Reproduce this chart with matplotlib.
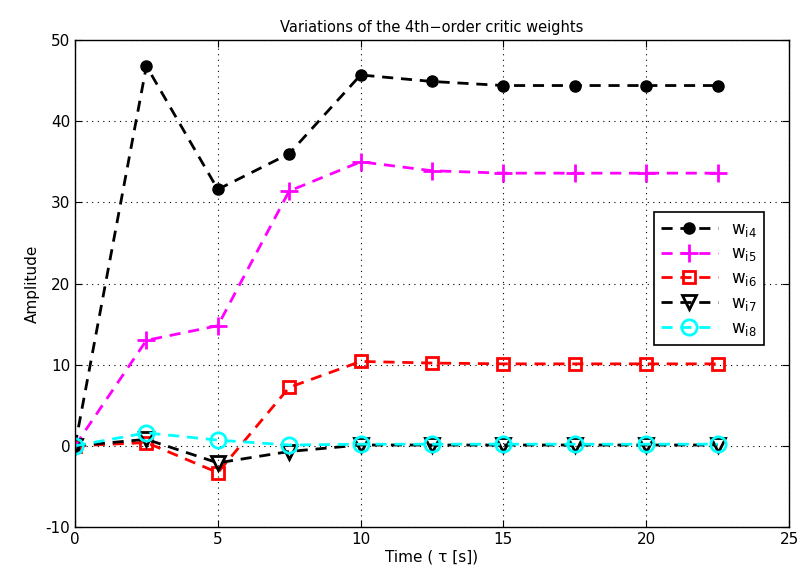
import numpy as np
import matplotlib.pyplot as plt

plt.rcParams['mathtext.default'] = 'regular'
plt.rcParams['axes.unicode_minus'] = False

# time samples
t = [0, 2.5, 5, 7.5, 10, 12.5, 15, 17.5, 20, 22.5]

# critic weights
w4 = [0, 46.8, 31.6, 36.0, 45.7, 44.9, 44.4, 44.4, 44.4, 44.4]
w5 = [0, 13.0, 14.8, 31.4, 35.0, 33.9, 33.6, 33.6, 33.6, 33.6]
w6 = [0, 0.4, -3.3, 7.2, 10.4, 10.2, 10.1, 10.1, 10.1, 10.1]
w7 = [0, 0.8, -2.1, -0.7, 0.1, 0.1, 0.1, 0.1, 0.1, 0.1]
w8 = [0, 1.6, 0.7, 0.1, 0.2, 0.2, 0.2, 0.2, 0.2, 0.2]

labels = ['w$_{i4}$', 'w$_{i5}$', 'w$_{i6}$', 'w$_{i7}$', 'w$_{i8}$']

fig = plt.figure(figsize=(8.03, 5.81), dpi=100)
ax = fig.add_axes([0.0934, 0.093, 0.8892, 0.838])

dash = (0, (4, 2.8))
ax.plot(t, w4, color='k', ls=dash, lw=2, marker='o', ms=8, mfc='k', label=labels[0])
ax.plot(t, w5, color='magenta', ls=dash, lw=2, marker='+', ms=13, mew=2, label=labels[1])
ax.plot(t, w6, color='red', ls=dash, lw=2, marker='s', ms=9, mfc='none', mew=2, label=labels[2])
ax.plot(t, w7, color='k', ls=dash, lw=2, marker='v', ms=10, mfc='none', mew=2, label=labels[3])
ax.plot(t, w8, color='cyan', ls=dash, lw=2, marker='o', ms=11, mfc='none', mew=2, label=labels[4])

ax.set_xlim(0, 25)
ax.set_ylim(-10, 50)
ax.set_xticks(np.arange(0, 26, 5))
ax.set_yticks(np.arange(-10, 51, 10))
ax.grid(True, ls=(0, (1, 4)), color='k', lw=0.8)
ax.tick_params(direction='in', top=True, right=True, labelsize=11, length=5)
for s in ax.spines.values():
    s.set_linewidth(1)

ax.set_title('Variations of the 4th\u2212order critic weights', fontsize=10.5)
ax.set_xlabel('Time ( \u03c4 [s])', fontsize=11, labelpad=2)
ax.set_ylabel('Amplitude', fontsize=11)

leg = ax.legend(loc='upper right', bbox_to_anchor=(0.977, 0.664), fontsize=12,
                fancybox=False, edgecolor='k', framealpha=1, handlelength=3.4,
                borderpad=0.45, labelspacing=0.35)
leg.get_frame().set_linewidth(1.2)

fig.savefig('out.png', dpi=100)
